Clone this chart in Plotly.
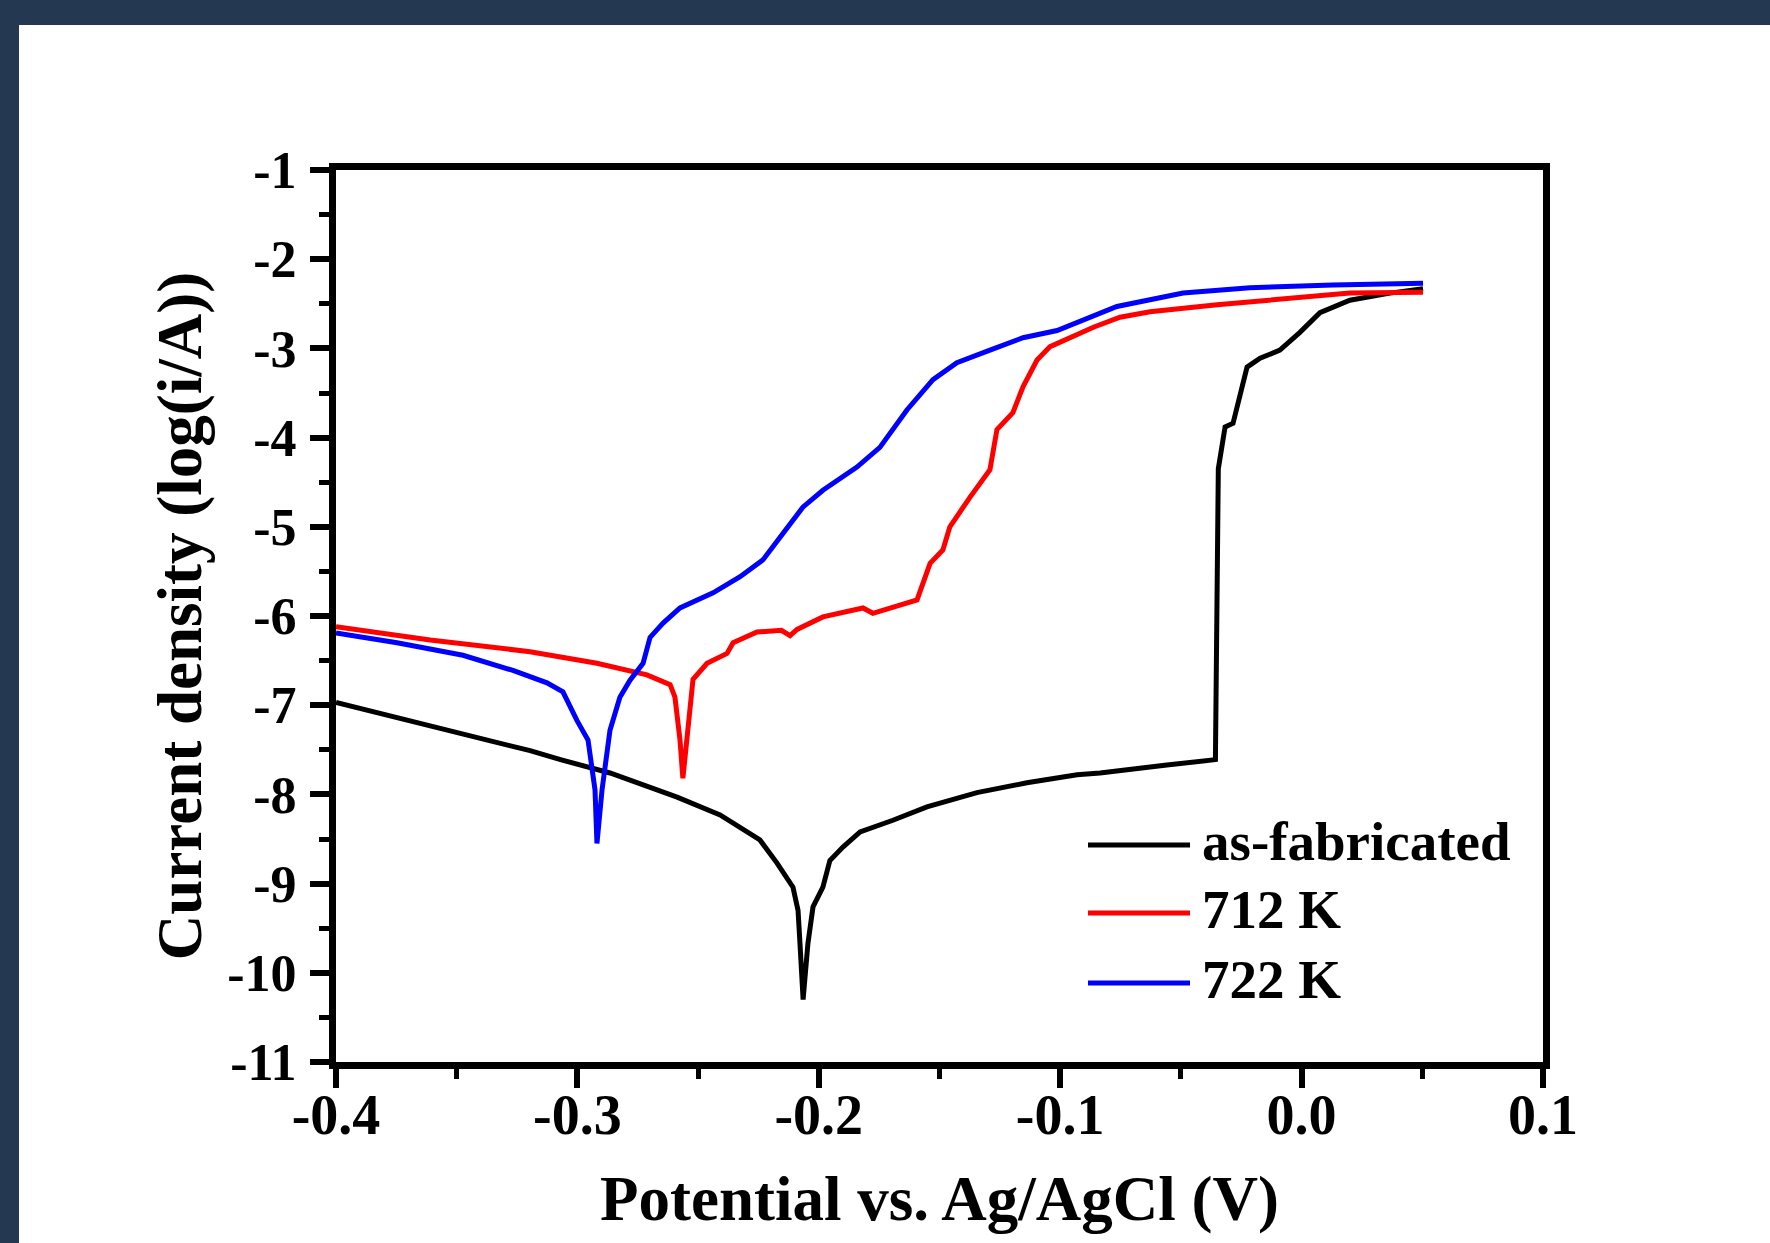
import plotly.graph_objects as go

# ---------------- data ----------------
series_names = ["as-fabricated", "712 K", "722 K"]
series_colors = ["#000000", "#ff0000", "#0000ff"]

x_asfab = [-0.4, -0.361, -0.3196, -0.307, -0.295, -0.2865, -0.2587, -0.2409, -0.2244,
           -0.2173, -0.2107, -0.2086, -0.2078, -0.2065, -0.2045, -0.2024, -0.1983,
           -0.1954, -0.19, -0.1829, -0.1693, -0.1552, -0.1345, -0.1138, -0.093,
           -0.0835, -0.0558, -0.0357, -0.0345, -0.0317, -0.0284, -0.0255, -0.0226,
           -0.0172, -0.009, -0.0007, 0.0076, 0.02, 0.0366, 0.0503]
y_asfab = [-6.97, -7.23, -7.51, -7.61, -7.70, -7.76, -8.03, -8.23, -8.51,
           -8.77, -9.04, -9.30, -9.67, -10.30, -9.67, -9.26, -9.04,
           -8.74, -8.59, -8.42, -8.29, -8.14, -7.98, -7.87, -7.78,
           -7.76, -7.67, -7.61, -4.35, -3.88, -3.84, -3.50, -3.21,
           -3.11, -3.02, -2.82, -2.60, -2.46, -2.38, -2.33]

x_712 = [-0.4, -0.361, -0.3196, -0.2919, -0.2712, -0.2616, -0.2596, -0.2575, -0.2563,
         -0.2542, -0.2521, -0.2463, -0.238, -0.2355, -0.2285, -0.2256, -0.2155, -0.2119,
         -0.209, -0.1983, -0.1817, -0.1776, -0.1593, -0.1539, -0.1486, -0.1457,
         -0.1374, -0.1291, -0.1262, -0.1196, -0.1154, -0.1096, -0.1042, -0.086,
         -0.0752, -0.0628, -0.035, -0.0077, 0.02, 0.0503]
y_712 = [-6.12, -6.27, -6.40, -6.53, -6.66, -6.77, -6.91, -7.39, -7.82,
         -7.28, -6.71, -6.53, -6.42, -6.30, -6.22, -6.18, -6.16, -6.22,
         -6.15, -6.01, -5.91, -5.97, -5.82, -5.41, -5.26, -5.00,
         -4.67, -4.36, -3.91, -3.72, -3.43, -3.13, -2.98, -2.76,
         -2.65, -2.59, -2.51, -2.44, -2.38, -2.37]

x_722 = [-0.4, -0.3747, -0.3474, -0.3267, -0.3126, -0.306, -0.3002, -0.2956, -0.2927,
         -0.2919, -0.2898, -0.2865, -0.2824, -0.2782, -0.2728, -0.2699, -0.2645,
         -0.2575, -0.2438, -0.2326, -0.2231, -0.2148, -0.2066, -0.1983, -0.1842,
         -0.1747, -0.1635, -0.1527, -0.1428, -0.1291, -0.1154, -0.1013, -0.0877,
         -0.0765, -0.0491, -0.0214, 0.013, 0.0503]
y_722 = [-6.19, -6.30, -6.44, -6.61, -6.75, -6.85, -7.17, -7.39, -7.95,
         -8.55, -7.95, -7.28, -6.91, -6.72, -6.53, -6.24, -6.08,
         -5.91, -5.74, -5.56, -5.37, -5.07, -4.78, -4.59, -4.33,
         -4.11, -3.69, -3.35, -3.16, -3.02, -2.88, -2.80, -2.66,
         -2.53, -2.38, -2.32, -2.29, -2.27]

x_tick_vals = [-0.4, -0.3, -0.2, -0.1, 0.0, 0.1]
x_tick_text = ["-0.4", "-0.3", "-0.2", "-0.1", "0.0", "0.1"]
x_minor_vals = [-0.35, -0.25, -0.15, -0.05, 0.05]
y_tick_vals = [-1, -2, -3, -4, -5, -6, -7, -8, -9, -10, -11]
y_tick_text = ["-1", "-2", "-3", "-4", "-5", "-6", "-7", "-8", "-9", "-10", "-11"]
y_minor_vals = [-1.5, -2.5, -3.5, -4.5, -5.5, -6.5, -7.5, -8.5, -9.5, -10.5]

x_title = "Potential vs. Ag/AgCl (V)"
y_title = "Current density (log(i/A))"

# ---------------- figure ----------------
W, H = 1770, 1243
ML, MR, MT, MB = 336, 227, 170, 181
PW, PH = W - ML - MR, H - MT - MB

def px_to_paper_x(px):
    return (px - ML) / PW

def px_to_paper_y(py):
    return (H - MB - py) / PH

FONT = "Liberation Serif, Times New Roman, serif"
NAVY = "#243852"

fig = go.Figure()
all_x = [x_asfab, x_712, x_722]
all_y = [y_asfab, y_712, y_722]
for name, color, xs, ys in zip(series_names, series_colors, all_x, all_y):
    fig.add_trace(go.Scatter(x=xs, y=ys, mode="lines", name=name,
                             line=dict(color=color, width=5), showlegend=False))

shapes = [
    # white page over the navy frame
    dict(type="rect", xref="paper", yref="paper", layer="below",
         x0=px_to_paper_x(19), x1=px_to_paper_x(W + 50),
         y0=px_to_paper_y(H + 50), y1=px_to_paper_y(25),
         fillcolor="white", line=dict(width=0)),
]
annotations = []
legend_rows_px = [845, 913, 983]
for name, color, ry in zip(series_names, series_colors, legend_rows_px):
    shapes.append(dict(type="line", xref="paper", yref="paper",
                       x0=px_to_paper_x(1088), x1=px_to_paper_x(1190),
                       y0=px_to_paper_y(ry), y1=px_to_paper_y(ry),
                       line=dict(color=color, width=5)))
    annotations.append(dict(xref="paper", yref="paper", x=px_to_paper_x(1200),
                            y=px_to_paper_y(ry - 4), xanchor="left", yanchor="middle",
                            text=name, showarrow=False,
                            font=dict(family=FONT, size=55, color="black", weight="bold")))

axis_common = dict(showline=True, linecolor="black", linewidth=7, mirror=True,
                   ticks="outside", ticklen=19, tickwidth=6, tickcolor="black",
                   showgrid=False, zeroline=False, automargin=False)

fig.update_layout(
    width=W, height=H,
    margin=dict(l=ML, r=MR, t=MT, b=MB, pad=0, autoexpand=False),
    paper_bgcolor=NAVY, plot_bgcolor="white",
    shapes=shapes, annotations=annotations, showlegend=False,
    xaxis=dict(range=[-0.4, 0.1], tickmode="array", tickvals=x_tick_vals, ticktext=x_tick_text,
               minor=dict(tickmode="array", tickvals=x_minor_vals, ticks="outside",
                          ticklen=10, tickwidth=5, tickcolor="black"),
               ticklabelstandoff=-21,
               tickfont=dict(family=FONT, size=56, color="black", weight="bold"),
               title=dict(text=x_title, standoff=33,
                          font=dict(family=FONT, size=63, color="black", weight="bold")),
               **axis_common),
    yaxis=dict(range=[-11, -1], tickmode="array", tickvals=y_tick_vals, ticktext=y_tick_text,
               minor=dict(tickmode="array", tickvals=y_minor_vals, ticks="outside",
                          ticklen=10, tickwidth=5, tickcolor="black"),
               ticklabelstandoff=3,
               tickfont=dict(family=FONT, size=52, color="black", weight="bold"),
               title=dict(text=y_title, standoff=8,
                          font=dict(family=FONT, size=63, color="black", weight="bold")),
               **axis_common),
)

fig.write_html("out.html")
